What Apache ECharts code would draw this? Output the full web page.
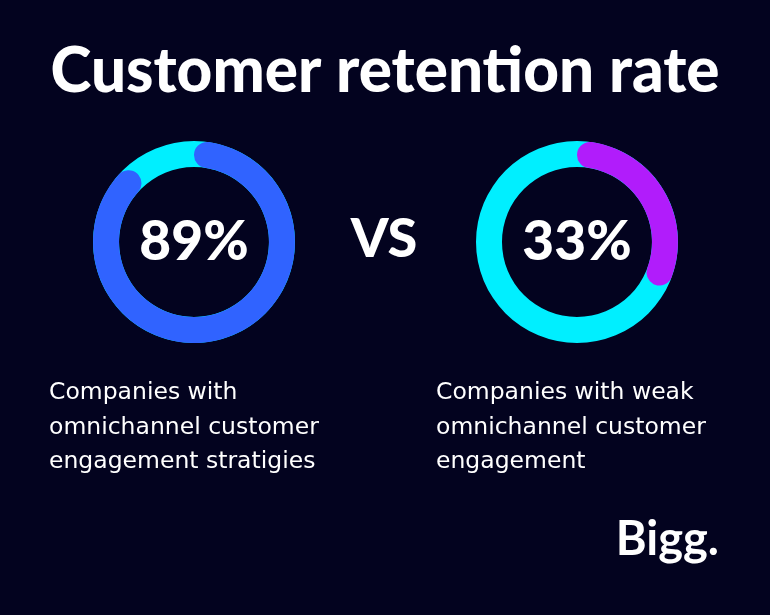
<!DOCTYPE html>
<html><head><meta charset="utf-8">
<script src="https://cdn.jsdelivr.net/npm/echarts@6/dist/echarts.min.js"></script>
<style>html,body{margin:0;padding:0;background:#03031f}#c{width:770px;height:615px}</style>
</head><body><div id="c"></div>
<script>
const titleText = "Customer retention rate";
const categories = ["Companies with omnichannel customer engagement stratigies", "Companies with weak omnichannel customer engagement"];
const captionLines = [["Companies with", "omnichannel customer", "engagement stratigies"], ["Companies with weak", "omnichannel customer", "engagement"]];
const retention = [89, 33];
const valueLabels = ["89%", "33%"];
const vsText = "VS";
const brandText = "Bigg.";

const fg = ["#3063ff", "#b11cfb"];
const bg = ["#00efff", "#00efff"];
const centers = [[194, 242], [577, 242]];
const font = "Lato";

const series = [];
retention.forEach((v, i) => {
  series.push({
    type: 'pie', center: centers[i], radius: [75, 101], silent: true,
    label: {show: false}, labelLine: {show: false}, emphasis: {disabled: true},
    data: [{value: 100, itemStyle: {color: bg[i]}}]
  });
  series.push({
    type: 'pie', center: centers[i], radius: [75, 101], silent: true,
    startAngle: 90, clockwise: true,
    label: {show: false}, labelLine: {show: false}, emphasis: {disabled: true},
    itemStyle: {borderRadius: 13},
    data: [
      {name: categories[i], value: v, itemStyle: {color: fg[i]}},
      {name: 'rest', value: 100 - v, itemStyle: {color: 'rgba(0,0,0,0)'}}
    ]
  });
});

const graphic = [];
valueLabels.forEach((t, i) => {
  graphic.push({type: 'text', x: centers[i][0], y: centers[i][1],
    style: {text: t, fill: '#fff', font: `900 55px ${font}`, align: 'center', verticalAlign: 'middle'}});
  captionLines[i].forEach((l, j) => {
    graphic.push({type: 'text', x: i === 0 ? 49 : 436, y: 393 + j * 34.5,
      style: {text: l, fill: '#fff', font: `400 23.5px "DejaVu Sans"`, align: 'left', verticalAlign: 'middle'}});
  });
});
graphic.push({type: 'text', x: 384, y: 240, style: {text: vsText, fill: '#fff', font: `900 54px ${font}`, align: 'center', verticalAlign: 'middle'}});
graphic.push({type: 'text', x: 719, y: 540, style: {text: brandText, fill: '#fff', font: `700 47px ${font}`, align: 'right', verticalAlign: 'middle'}});

const chart = echarts.init(document.getElementById('c'));
chart.setOption({
  backgroundColor: '#03031f',
  animation: false,
  title: {text: titleText, left: 'center', top: 36,
    textStyle: {color: '#fff', fontFamily: font, fontWeight: 900, fontSize: 62}},
  series: series,
  graphic: graphic
});
</script></body></html>
